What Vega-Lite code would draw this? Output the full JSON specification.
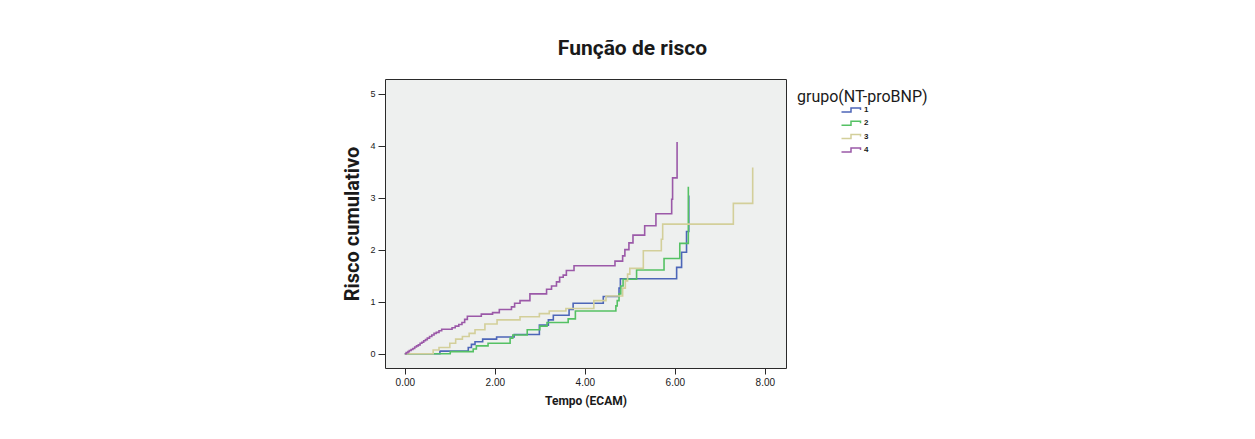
{
  "$schema": "https://vega.github.io/schema/vega-lite/v6.json",
  "autosize": {"type": "none"},
  "width": 401,
  "height": 289,
  "padding": {"left": 385, "top": 79, "right": 469, "bottom": 71},
  "background": "white",
  "title": {
    "text": "Função de risco",
    "font": "Roboto",
    "fontSize": 21,
    "fontWeight": "bold",
    "color": "#1a1a1a",
    "anchor": "middle",
    "frame": "group",
    "baseline": "alphabetic",
    "offset": 3,
    "dx": 47
  },
  "config": {
    "view": {"fill": "#eef0ef", "stroke": "#2a2a2a", "strokeWidth": 1},
    "axis": {"grid": false, "domain": false, "tickColor": "#2a2a2a", "labelColor": "#1a1a1a", "titleColor": "#1a1a1a", "labelFont": "Liberation Sans", "titleFont": "Roboto", "titleFontWeight": "bold"}
  },
  "data": {
    "values": [
      {"g": "1", "t": 0, "r": 0},
      {"g": "1", "t": 0.78, "r": 0.05},
      {"g": "1", "t": 1.41, "r": 0.12},
      {"g": "1", "t": 1.48, "r": 0.18},
      {"g": "1", "t": 1.56, "r": 0.23},
      {"g": "1", "t": 1.73, "r": 0.28},
      {"g": "1", "t": 2.04, "r": 0.32},
      {"g": "1", "t": 2.43, "r": 0.37},
      {"g": "1", "t": 2.99, "r": 0.55},
      {"g": "1", "t": 3.19, "r": 0.65},
      {"g": "1", "t": 3.30, "r": 0.74},
      {"g": "1", "t": 3.65, "r": 0.85},
      {"g": "1", "t": 3.74, "r": 0.97},
      {"g": "1", "t": 4.41, "r": 1.10},
      {"g": "1", "t": 4.76, "r": 1.26},
      {"g": "1", "t": 4.79, "r": 1.44},
      {"g": "1", "t": 6.04, "r": 1.66},
      {"g": "1", "t": 6.15, "r": 1.95},
      {"g": "1", "t": 6.26, "r": 2.35},
      {"g": "1", "t": 6.31, "r": 3.04},
      {"g": "2", "t": 0, "r": 0},
      {"g": "2", "t": 1.01, "r": 0.04},
      {"g": "2", "t": 1.52, "r": 0.09},
      {"g": "2", "t": 1.59, "r": 0.15},
      {"g": "2", "t": 1.85, "r": 0.20},
      {"g": "2", "t": 2.34, "r": 0.30},
      {"g": "2", "t": 2.40, "r": 0.36},
      {"g": "2", "t": 2.72, "r": 0.46},
      {"g": "2", "t": 3.00, "r": 0.53},
      {"g": "2", "t": 3.16, "r": 0.60},
      {"g": "2", "t": 3.63, "r": 0.67},
      {"g": "2", "t": 3.79, "r": 0.82},
      {"g": "2", "t": 4.69, "r": 0.92},
      {"g": "2", "t": 4.72, "r": 1.02},
      {"g": "2", "t": 4.76, "r": 1.15},
      {"g": "2", "t": 4.80, "r": 1.30},
      {"g": "2", "t": 4.85, "r": 1.43},
      {"g": "2", "t": 5.15, "r": 1.61},
      {"g": "2", "t": 5.76, "r": 1.83},
      {"g": "2", "t": 6.11, "r": 2.12},
      {"g": "2", "t": 6.30, "r": 3.21},
      {"g": "3", "t": 0, "r": 0},
      {"g": "3", "t": 0.63, "r": 0.07},
      {"g": "3", "t": 0.76, "r": 0.12},
      {"g": "3", "t": 1.00, "r": 0.20},
      {"g": "3", "t": 1.13, "r": 0.28},
      {"g": "3", "t": 1.28, "r": 0.33},
      {"g": "3", "t": 1.43, "r": 0.39},
      {"g": "3", "t": 1.56, "r": 0.46},
      {"g": "3", "t": 1.78, "r": 0.57},
      {"g": "3", "t": 2.05, "r": 0.65},
      {"g": "3", "t": 2.56, "r": 0.71},
      {"g": "3", "t": 2.99, "r": 0.77},
      {"g": "3", "t": 3.21, "r": 0.82},
      {"g": "3", "t": 3.58, "r": 0.87},
      {"g": "3", "t": 4.20, "r": 1.02},
      {"g": "3", "t": 4.47, "r": 1.11},
      {"g": "3", "t": 4.84, "r": 1.26},
      {"g": "3", "t": 4.90, "r": 1.40},
      {"g": "3", "t": 4.95, "r": 1.53},
      {"g": "3", "t": 5.00, "r": 1.64},
      {"g": "3", "t": 5.30, "r": 1.98},
      {"g": "3", "t": 5.70, "r": 2.20},
      {"g": "3", "t": 5.73, "r": 2.49},
      {"g": "3", "t": 7.30, "r": 2.89},
      {"g": "3", "t": 7.73, "r": 3.58},
      {"g": "4", "t": 0, "r": 0},
      {"g": "4", "t": 0.03, "r": 0.02},
      {"g": "4", "t": 0.07, "r": 0.04},
      {"g": "4", "t": 0.10, "r": 0.06},
      {"g": "4", "t": 0.14, "r": 0.08},
      {"g": "4", "t": 0.18, "r": 0.10},
      {"g": "4", "t": 0.22, "r": 0.13},
      {"g": "4", "t": 0.26, "r": 0.15},
      {"g": "4", "t": 0.30, "r": 0.17},
      {"g": "4", "t": 0.34, "r": 0.20},
      {"g": "4", "t": 0.38, "r": 0.22},
      {"g": "4", "t": 0.42, "r": 0.25},
      {"g": "4", "t": 0.46, "r": 0.27},
      {"g": "4", "t": 0.50, "r": 0.30},
      {"g": "4", "t": 0.55, "r": 0.33},
      {"g": "4", "t": 0.60, "r": 0.36},
      {"g": "4", "t": 0.65, "r": 0.39},
      {"g": "4", "t": 0.70, "r": 0.41},
      {"g": "4", "t": 0.76, "r": 0.44},
      {"g": "4", "t": 0.82, "r": 0.47},
      {"g": "4", "t": 1.05, "r": 0.50},
      {"g": "4", "t": 1.12, "r": 0.53},
      {"g": "4", "t": 1.20, "r": 0.56},
      {"g": "4", "t": 1.27, "r": 0.60},
      {"g": "4", "t": 1.33, "r": 0.66},
      {"g": "4", "t": 1.39, "r": 0.72},
      {"g": "4", "t": 1.70, "r": 0.76},
      {"g": "4", "t": 1.95, "r": 0.79},
      {"g": "4", "t": 2.10, "r": 0.85},
      {"g": "4", "t": 2.37, "r": 0.90},
      {"g": "4", "t": 2.44, "r": 0.97},
      {"g": "4", "t": 2.56, "r": 1.02},
      {"g": "4", "t": 2.78, "r": 1.15},
      {"g": "4", "t": 3.15, "r": 1.24},
      {"g": "4", "t": 3.26, "r": 1.30},
      {"g": "4", "t": 3.37, "r": 1.38},
      {"g": "4", "t": 3.44, "r": 1.47},
      {"g": "4", "t": 3.52, "r": 1.51},
      {"g": "4", "t": 3.59, "r": 1.60},
      {"g": "4", "t": 3.76, "r": 1.69},
      {"g": "4", "t": 4.67, "r": 1.78},
      {"g": "4", "t": 4.84, "r": 1.88},
      {"g": "4", "t": 4.89, "r": 2.00},
      {"g": "4", "t": 4.98, "r": 2.13},
      {"g": "4", "t": 5.07, "r": 2.28},
      {"g": "4", "t": 5.33, "r": 2.46},
      {"g": "4", "t": 5.58, "r": 2.69},
      {"g": "4", "t": 5.93, "r": 2.97},
      {"g": "4", "t": 5.95, "r": 3.38},
      {"g": "4", "t": 6.05, "r": 4.07}
    ]
  },
  "mark": {"type": "line", "interpolate": "step-after", "strokeWidth": 1.6, "clip": true},
  "encoding": {
    "x": {
      "field": "t",
      "type": "quantitative",
      "scale": {"domain": [-0.44, 8.47], "nice": false, "zero": false},
      "axis": {"values": [0, 2, 4, 6, 8], "format": ".2f", "title": "Tempo (ECAM)", "tickSize": 6, "labelFontSize": 10, "labelPadding": 3, "titleFontSize": 12, "titlePadding": 8}
    },
    "y": {
      "field": "r",
      "type": "quantitative",
      "scale": {"domain": [-0.275, 5.28], "nice": false, "zero": false},
      "axis": {"values": [0, 1, 2, 3, 4, 5], "format": "d", "title": "Risco cumulativo", "tickSize": 7, "labelFontSize": 9, "labelPadding": 3, "titleFontSize": 20, "titlePadding": 7}
    },
    "color": {
      "field": "g",
      "type": "nominal",
      "scale": {"domain": ["1", "2", "3", "4"], "range": ["#4d66b8", "#55c164", "#d3cf9a", "#9b59a8"]},
      "legend": {
        "title": "grupo(NT-proBNP)",
        "orient": "none",
        "legendX": 412,
        "legendY": 10,
        "padding": 0,
        "titleFont": "Roboto",
        "titleFontSize": 16,
        "titleFontWeight": "normal",
        "titleColor": "#1a1a1a",
        "titlePadding": -1,
        "symbolType": "M-1.9,0.4H0V-0.4H1.9V0",
        "symbolSize": 100,
        "symbolStrokeWidth": 1.5,
        "symbolFillColor": "transparent",
        "symbolOffset": 48,
        "labelOffset": 7,
        "labelFont": "Liberation Sans",
        "labelFontSize": 8,
        "labelFontWeight": "bold",
        "labelColor": "#1a1a1a",
        "rowPadding": 2.3
      }
    }
  }
}
